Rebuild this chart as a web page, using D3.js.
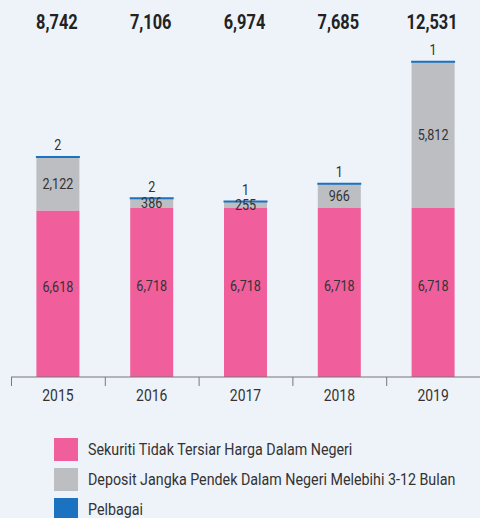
<!DOCTYPE html>
<html>
<head>
<meta charset="utf-8">
<script src="https://cdn.jsdelivr.net/npm/d3@7"></script>
<style>
  html, body { margin: 0; padding: 0; background: #eef2f9; }
  svg text { font-family: "Roboto", "Liberation Sans", sans-serif; }
</style>
</head>
<body>
<div id="chart"></div>
<script>
const years = ["2015", "2016", "2017", "2018", "2019"];
const sekuriti = [6618, 6718, 6718, 6718, 6718];
const deposit = [2122, 386, 255, 966, 5812];
const pelbagai = [2, 2, 1, 1, 1];
const totals = [8742, 7106, 6974, 7685, 12531];
const seriesNames = [
  "Sekuriti Tidak Tersiar Harga Dalam Negeri",
  "Deposit Jangka Pendek Dalam Negeri Melebihi 3-12 Bulan",
  "Pelbagai"
];

(function () {
  const width = 480;
  const height = 518;
  const colors = ["#f05e9b", "#bdbec2", "#1b72c0"];
  const fmt = d3.format(",");
  // reference uses a condensed face; squeeze Roboto horizontally
  const squeeze = (px, py, s) => `translate(${px},${py}) scale(${s},1)`;

  const svg = d3.select("#chart")
    .append("svg")
    .attr("width", width)
    .attr("height", height);

  svg.append("rect").attr("width", width).attr("height", height).attr("fill", "#eef2f9");

  const x = d3.scaleBand().domain(years).range([11, 480]).paddingInner(0).paddingOuter(0);
  const y = d3.scaleLinear().domain([0, 6718]).range([377, 208]);
  const barW = 43;

  const rows = years.map((yr, i) => ({
    year: yr, s: sekuriti[i], d: deposit[i], p: pelbagai[i], total: totals[i]
  }));

  const bx = d => x(d.year) + (x.bandwidth() - barW) / 2;
  const cx = d => x(d.year) + x.bandwidth() / 2;

  const g = svg.append("g");

  // pink base
  g.selectAll("rect.sek").data(rows).join("rect")
    .attr("x", bx)
    .attr("width", barW)
    .attr("y", d => y(d.s))
    .attr("height", d => y(0) - y(d.s))
    .attr("fill", colors[0]);

  // grey deposit
  g.selectAll("rect.dep").data(rows).join("rect")
    .attr("x", bx)
    .attr("width", barW)
    .attr("y", d => y(d.s + d.d))
    .attr("height", d => y(d.s) - y(d.s + d.d))
    .attr("fill", colors[1]);

  // blue pelbagai, too thin to see so drawn as a cap line
  g.selectAll("line.pel").data(rows).join("line")
    .attr("x1", d => bx(d) - 0.5)
    .attr("x2", d => bx(d) + barW + 0.5)
    .attr("y1", d => y(d.s + d.d + d.p))
    .attr("y2", d => y(d.s + d.d + d.p))
    .attr("stroke", colors[2])
    .attr("stroke-width", 2);

  const label = (sel, posX, posY, size, s) => sel
    .attr("transform", d => squeeze(posX(d), posY(d), s))
    .attr("dy", "0.35em")
    .attr("text-anchor", "middle")
    .attr("font-size", size);

  g.selectAll("text.sek").data(rows).join("text")
    .call(label, cx, d => (y(0) + y(d.s)) / 2 - 7, 15, 0.84)
    .attr("fill", "#333")
    .text(d => fmt(d.s));

  g.selectAll("text.dep").data(rows).join("text")
    .call(label, cx, d => (y(d.s) + y(d.s + d.d)) / 2, 15, 0.84)
    .attr("fill", "#333")
    .text(d => fmt(d.d));

  g.selectAll("text.pel").data(rows).join("text")
    .call(label, cx, d => y(d.s + d.d + d.p) - 12, 15, 0.84)
    .attr("fill", "#333")
    .text(d => fmt(d.p));

  g.selectAll("text.tot").data(rows).join("text")
    .call(label, d => cx(d) - 1, () => 22, 21, 0.78)
    .attr("font-weight", "bold")
    .attr("fill", "#222")
    .text(d => fmt(d.total));

  // axis
  const axis = svg.append("g").attr("transform", "translate(0,377)");
  axis.append("line").attr("x1", 11).attr("x2", 480).attr("stroke", "#777").attr("stroke-width", 1);
  axis.selectAll("line.tick").data(years).join("line")
    .attr("x1", d => x(d) + 0.5).attr("x2", d => x(d) + 0.5)
    .attr("y1", 0).attr("y2", 9)
    .attr("stroke", "#777");
  axis.selectAll("text").data(years).join("text")
    .call(label, d => x(d) + x.bandwidth() / 2, () => 18, 17, 0.82)
    .attr("fill", "#333")
    .text(d => d);

  // legend
  const legend = svg.append("g").attr("transform", "translate(54,438)");
  const items = legend.selectAll("g").data(seriesNames).join("g")
    .attr("transform", (d, i) => `translate(0,${i * 30})`);
  items.append("rect").attr("width", 24).attr("height", 23).attr("fill", (d, i) => colors[i]);
  items.append("text")
    .attr("transform", squeeze(34, 11.5, 0.84))
    .attr("dy", "0.35em")
    .attr("font-size", 17).attr("fill", "#333")
    .text(d => d);
})();
</script>
</body>
</html>
